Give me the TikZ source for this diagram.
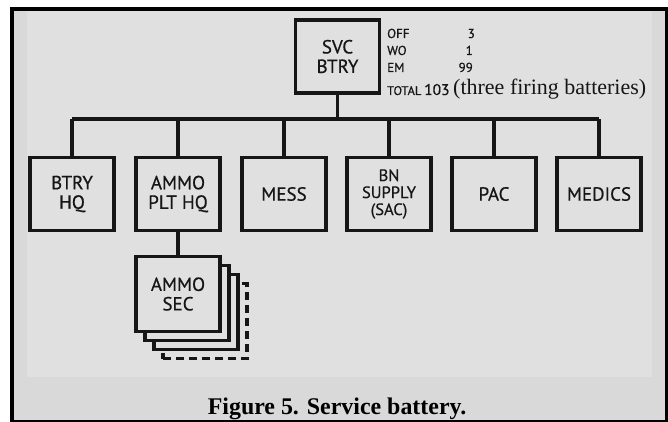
\documentclass[tikz,border=0pt]{standalone}
\usepackage{fontspec}
\setmainfont{Liberation Serif}
\setsansfont{PT Sans}
\newfontfamily\unitfont[FakeBold=0.6]{PT Sans}
\usetikzlibrary{positioning}
\definecolor{paper}{RGB}{217,217,217}
\definecolor{print}{RGB}{224,224,224}
\definecolor{ink}{RGB}{22,22,22}
\tikzset{
  unit/.style={draw=ink,line width=3.8pt,fill=print,minimum width=84pt,
    minimum height=73pt,inner sep=0pt,outer sep=0pt,align=center,text=ink,
    font=\unitfont\fontsize{19}{19.5}\selectfont},
  backunit/.style={draw=ink,line width=3.2pt,fill=print,minimum width=84pt,
    minimum height=75pt,inner sep=0pt,outer sep=0pt},
  link/.style={draw=ink,line width=3.8pt},
  strength/.style={inner sep=0pt,text=ink,font=\unitfont\fontsize{13}{13}\selectfont}
}
\begin{document}
\begin{tikzpicture}[x=1pt,y=-1pt]
  % page, frame and printed area
  \useasboundingbox (0,0) rectangle (668,422);
  \fill[white] (0,0) rectangle (668,422);
  \fill[black] (10,7) rectangle (668,422);
  \fill[paper] (14,11) rectangle (665,420);
  \fill[print] (27,11) rectangle (652,377);

  \node[unit] (svc) at (337.5,56.5) {SVC\\BTRY};

  % strength
  \node[strength,anchor=base west] (off) at (387,38) {OFF};
  \node[strength,anchor=base west] (wo) at (387,55) {WO};
  \node[strength,anchor=base west] (em) at (387,72) {EM};
  \node[strength,anchor=base west,font=\unitfont\fontsize{12.5}{13}\selectfont]
    (total) at (387,95) {TOTAL};
  \node[strength,anchor=base east] (offn) at (475,38) {3};
  \node[strength,anchor=base east] (won) at (473,55) {1};
  \node[strength,anchor=base east] (emn) at (473,72) {99};
  \node[strength,anchor=base west,font=\unitfont\fontsize{15.5}{16}\selectfont]
    (totaln) at (424,95) {103};
  \node[anchor=base west,inner sep=0pt,text=ink,font=\fontsize{22}{22}\selectfont]
    (note) at (453,95) {(three firing batteries)};

  % the six sections
  \foreach \name/\x/\label in {hq/72/{BTRY\\HQ},ammo/178/{AMMO\\PLT HQ},
      mess/284/{MESS},pac/494/{PAC},medics/599/{MEDICS}}{
    \node[unit] (\name) at (\x,194) {\label};
  }
  \node[unit,font=\unitfont\fontsize{16.5}{17}\selectfont] (supply) at (389,194)
    {BN\\SUPPLY\\(SAC)};

  \coordinate (bus) at (0,119);
  \draw[link] (svc.south) -- (svc.south |- bus);
  \draw[link] (hq.north |- bus) -- (medics.north |- bus);
  \foreach \name in {hq,ammo,mess,supply,pac,medics}{
    \draw[link] (\name.north) -- (\name.north |- bus);
  }

  % ammo sections, stacked
  \coordinate (secpos) at (178,294);
  \node[backunit,dashed,dash pattern=on 8pt off 5pt] (sec3) at ([shift={(27,27)}]secpos) {};
  \node[backunit] (sec2) at ([shift={(18,18)}]secpos) {};
  \node[backunit] (sec1) at ([shift={(9,9)}]secpos) {};
  \node[unit,minimum height=75pt] (sec) at (secpos) {AMMO\\SEC};
  \draw[link] (ammo.south) -- (sec.north);

  \node[anchor=base,inner sep=0pt,font=\bfseries\fontsize{23.9}{24}\selectfont]
    (caption) at (337,414) {Figure 5. Service battery.};
\end{tikzpicture}
\end{document}
